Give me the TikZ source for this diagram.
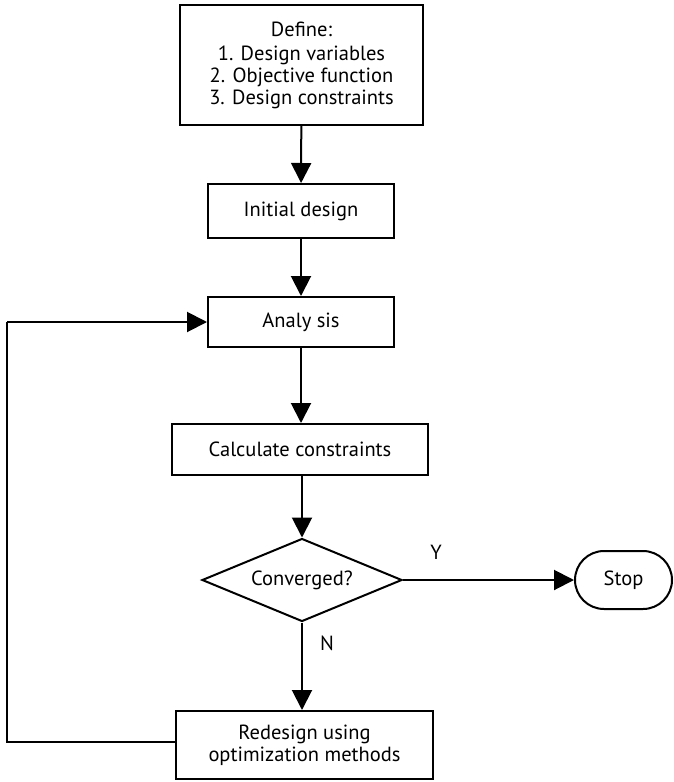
\documentclass[tikz,border=0pt]{standalone}
\usepackage{fontspec}
\setmainfont{PT Sans}
\usetikzlibrary{arrows.meta}
\usetikzlibrary{shapes.geometric}
\usetikzlibrary{shapes.misc}

\begin{document}
\begin{tikzpicture}[x=1pt, y=-1pt,
        every node/.style={font=\fontsize{20.5}{22}\selectfont},
        stepbox/.style={draw, line width=2pt, inner sep=0pt, align=center},
        decision/.style={draw, line width=2pt, diamond, aspect=2.4, inner sep=0pt},
        terminal/.style={draw, line width=2pt, rounded rectangle, inner sep=0pt},
        flow/.style={line width=2pt, -{Triangle[width=20pt,length=20pt]}},
        link/.style={line width=2pt}
    ]
        \useasboundingbox (0,0) rectangle (674,782);
        \node (define) [stepbox, minimum width=243pt, minimum height=120pt] at (301.5,65)
            {Define:\\[2pt] 1. Design variables\\ 2. Objective function\\ 3. Design constraints};
        \node (init) [stepbox, minimum width=186pt, minimum height=54pt] at (301,211) {Initial design};
        \node (analysis) [stepbox, minimum width=186pt, minimum height=50pt] at (301,322) {Analy sis};
        \node (calc) [stepbox, minimum width=256pt, minimum height=51pt] at (300,449.5) {Calculate constraints};
        \node (conv) [decision, minimum width=200pt, minimum height=83pt] at (302,580) {Converged?};
        \node (stop) [terminal, minimum width=97pt, minimum height=58pt] at (623.5,580) {Stop};
        \node (redesign) [stepbox, minimum width=257pt, minimum height=68pt] at (304.5,745)
            {Redesign using\\ optimization methods};
        \node (yes) at (436,552) {Y};
        \node (no) at (327,643) {N};
        \coordinate (loopbot) at (7,742);
        \coordinate (looptop) at (7,322);

        \draw [flow] (define) -- (init);
        \draw [flow] (init) -- (analysis);
        \draw [flow] (analysis) -- (calc.north -| analysis.south);
        \draw [flow] (calc.south -| conv.north) -- (conv);
        \draw [flow] (conv) -- (stop);
        \draw [flow] (conv) -- (redesign.north -| conv.south);
        \draw [link] (redesign.west |- loopbot) -- (loopbot) -- (looptop);
        \draw [flow] (looptop) -- (analysis);
\end{tikzpicture}
\end{document}
